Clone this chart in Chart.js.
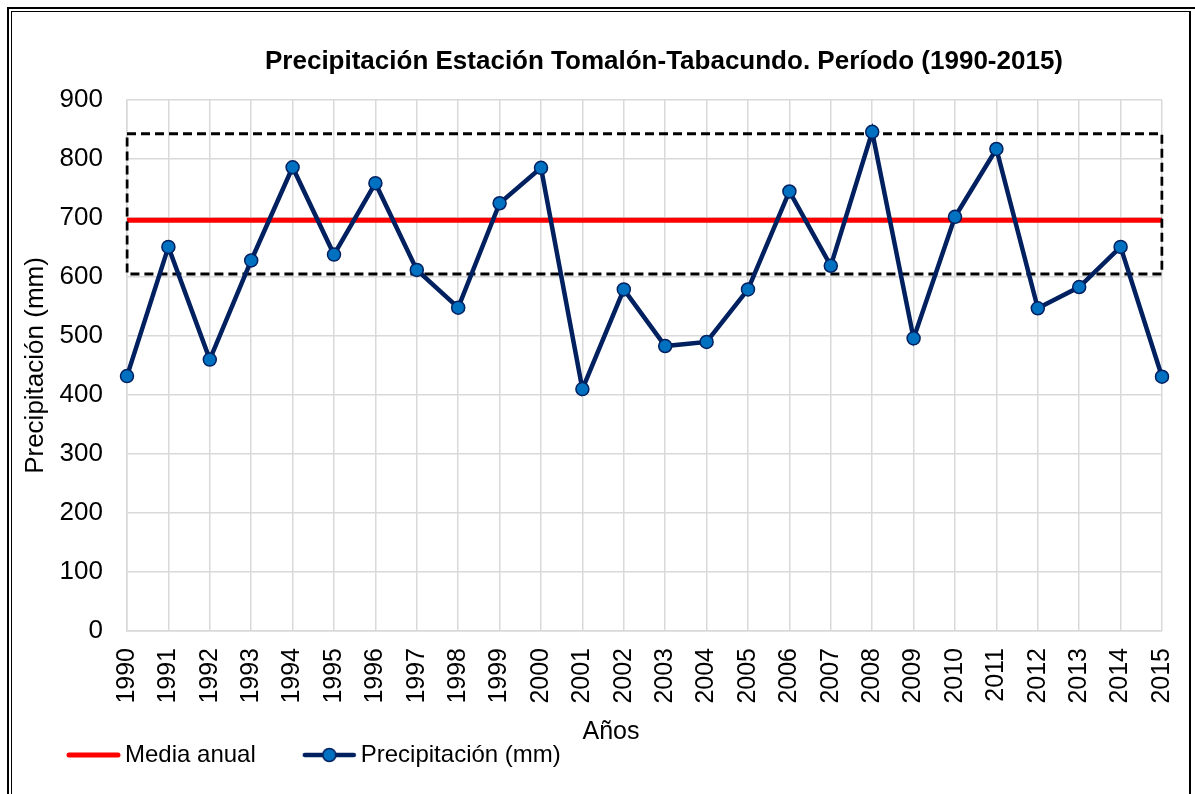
<!DOCTYPE html>
<html lang="es">
<head>
<meta charset="utf-8">
<title>Precipitación Estación Tomalón-Tabacundo</title>
<script src="https://cdn.jsdelivr.net/npm/chart.js@4.4.1/dist/chart.umd.min.js"></script>
<style>
    html, body { margin: 0; padding: 0; background: #fff; overflow: hidden; }
    #wrap { position: relative; width: 1195px; height: 794px; }
    #grafico { position: absolute; left: 0; top: 0; }
    .marco1 { position: absolute; left: 7px; top: 7px; width: 1200px; height: 800px; border: 2px solid #000; pointer-events: none; }
    .marco2 { position: absolute; left: 11px; top: 11px; width: 1177px; height: 800px; border-left: 1px solid #000; border-top: 1px solid #000; border-right: 2px solid #000; pointer-events: none; }
</style>
</head>
<body>
<div id="wrap">
    <canvas id="grafico" width="1195" height="794"></canvas>
    <div class="marco1"></div>
    <div class="marco2"></div>
</div>
<script>
const tituloGrafico = 'Precipitación Estación Tomalón-Tabacundo. Período (1990-2015)';
const tituloEjeX = 'Años';
const tituloEjeY = 'Precipitación (mm)';

const anios = ['1990', '1991', '1992', '1993', '1994', '1995', '1996', '1997', '1998', '1999',
    '2000', '2001', '2002', '2003', '2004', '2005', '2006', '2007', '2008', '2009',
    '2010', '2011', '2012', '2013', '2014', '2015'];

const precipitacion = [432, 651, 460, 628, 786, 638, 759, 612, 548, 725,
    785, 410, 579, 483, 490, 579, 745, 619, 846, 496,
    702, 817, 547, 583, 651, 431];

const mediaAnual = 696;

// limites del recuadro punteado
const recuadroAnios = ['1990', '2015'];
const recuadroLimites = [843, 605];

const ejeYTicks = [0, 100, 200, 300, 400, 500, 600, 700, 800, 900];

const FUENTE = '"Liberation Sans", Arial, sans-serif';
const AZUL_LINEA = '#002060';
const AZUL_PUNTO = '#0070C0';
const ROJO = '#FF0000';

function iconoLinea(color, conPunto) {
    const c = document.createElement('canvas');
    c.width = 106;
    c.height = 16;
    const g = c.getContext('2d');
    g.strokeStyle = color;
    g.lineCap = 'round';
    g.lineWidth = conPunto ? 4.5 : 5;
    g.beginPath();
    g.moveTo(54, 8);
    g.lineTo(103, 8);
    g.stroke();
    if (conPunto) {
        g.beginPath();
        g.arc(78.5, 8, 6.5, 0, Math.PI * 2);
        g.fillStyle = AZUL_PUNTO;
        g.fill();
        g.lineWidth = 1.5;
        g.strokeStyle = AZUL_LINEA;
        g.stroke();
    }
    return c;
}

const iconos = [iconoLinea(ROJO, false), iconoLinea(AZUL_LINEA, true)];

const textosPlugin = {
    id: 'textos',
    afterDraw(chart) {
        const { ctx, chartArea } = chart;
        ctx.save();
        ctx.fillStyle = '#000';
        ctx.textAlign = 'center';
        ctx.textBaseline = 'middle';
        ctx.font = 'bold 26px ' + FUENTE;
        ctx.fillText(tituloGrafico, chartArea.left + 537, chartArea.top - 38);
        ctx.font = '25px ' + FUENTE;
        ctx.fillText(tituloEjeX, chartArea.left + 484, chartArea.bottom + 101);
        ctx.restore();
    }
};

const recuadro = [
    { x: recuadroAnios[0], y: recuadroLimites[0] },
    { x: recuadroAnios[1], y: recuadroLimites[0] },
    { x: recuadroAnios[1], y: recuadroLimites[1] },
    { x: recuadroAnios[0], y: recuadroLimites[1] },
    { x: recuadroAnios[0], y: recuadroLimites[0] }
];

document.addEventListener('DOMContentLoaded', function() {
    const ctx = document.getElementById('grafico').getContext('2d');

    new Chart(ctx, {
        type: 'line',
        data: {
            labels: anios,
            datasets: [
                {
                    label: 'Media anual',
                    data: [{ x: anios[0], y: mediaAnual }, { x: anios[anios.length - 1], y: mediaAnual }],
                    borderColor: ROJO,
                    borderWidth: 5,
                    pointRadius: 0,
                    order: 2
                },
                {
                    label: 'Precipitación (mm)',
                    data: precipitacion,
                    borderColor: AZUL_LINEA,
                    borderWidth: 4.5,
                    pointRadius: 6.5,
                    pointBackgroundColor: AZUL_PUNTO,
                    pointBorderColor: AZUL_LINEA,
                    pointBorderWidth: 1.5,
                    order: 0
                },
                {
                    label: 'recuadro',
                    data: recuadro,
                    borderColor: '#000',
                    borderWidth: 3,
                    borderDash: [9, 5],
                    pointRadius: 0,
                    order: 1
                }
            ]
        },
        options: {
            responsive: false,
            animation: false,
            events: [],
            layout: {
                padding: { left: 20, right: 33, top: 100, bottom: 17 }
            },
            scales: {
                x: {
                    type: 'category',
                    offset: false,
                    grid: { color: '#d9d9d9', lineWidth: 1.5, drawTicks: false },
                    border: { color: '#d9d9d9', width: 1.5 },
                    ticks: {
                        autoSkip: false,
                        minRotation: 90,
                        maxRotation: 90,
                        padding: 17,
                        color: '#000',
                        font: { family: FUENTE, size: 25 }
                    },
                    afterFit(scale) {
                        scale.height = 109;
                        scale.paddingLeft = 0;
                        scale.paddingRight = 0;
                    }
                },
                y: {
                    min: 0,
                    max: 900,
                    afterBuildTicks(scale) {
                        scale.ticks = ejeYTicks.map(v => ({ value: v }));
                    },
                    grid: { color: '#d9d9d9', lineWidth: 1.5, drawTicks: false },
                    border: { color: '#d9d9d9', width: 1.5 },
                    ticks: {
                        padding: 24,
                        color: '#000',
                        font: { family: FUENTE, size: 26 }
                    },
                    title: {
                        display: true,
                        text: tituloEjeY,
                        color: '#000',
                        padding: { top: 0, bottom: 0 },
                        font: { family: FUENTE, size: 26 }
                    },
                    afterFit(scale) {
                        scale.width = 107;
                    }
                }
            },
            plugins: {
                title: { display: false },
                tooltip: { enabled: false },
                legend: {
                    display: true,
                    position: 'bottom',
                    align: 'start',
                    labels: {
                        usePointStyle: true,
                        pointStyleWidth: 90,
                        padding: 3,
                        color: '#000',
                        font: { family: FUENTE, size: 24 },
                        filter: item => item.datasetIndex !== 2,
                        sort: (a, b) => a.datasetIndex - b.datasetIndex,
                        generateLabels(chart) {
                            const items = Chart.defaults.plugins.legend.labels.generateLabels(chart);
                            items.forEach(item => {
                                if (item.datasetIndex < 2) {
                                    item.pointStyle = iconos[item.datasetIndex];
                                }
                            });
                            return items;
                        }
                    }
                }
            }
        },
        plugins: [textosPlugin]
    });
});
</script>
</body>
</html>
